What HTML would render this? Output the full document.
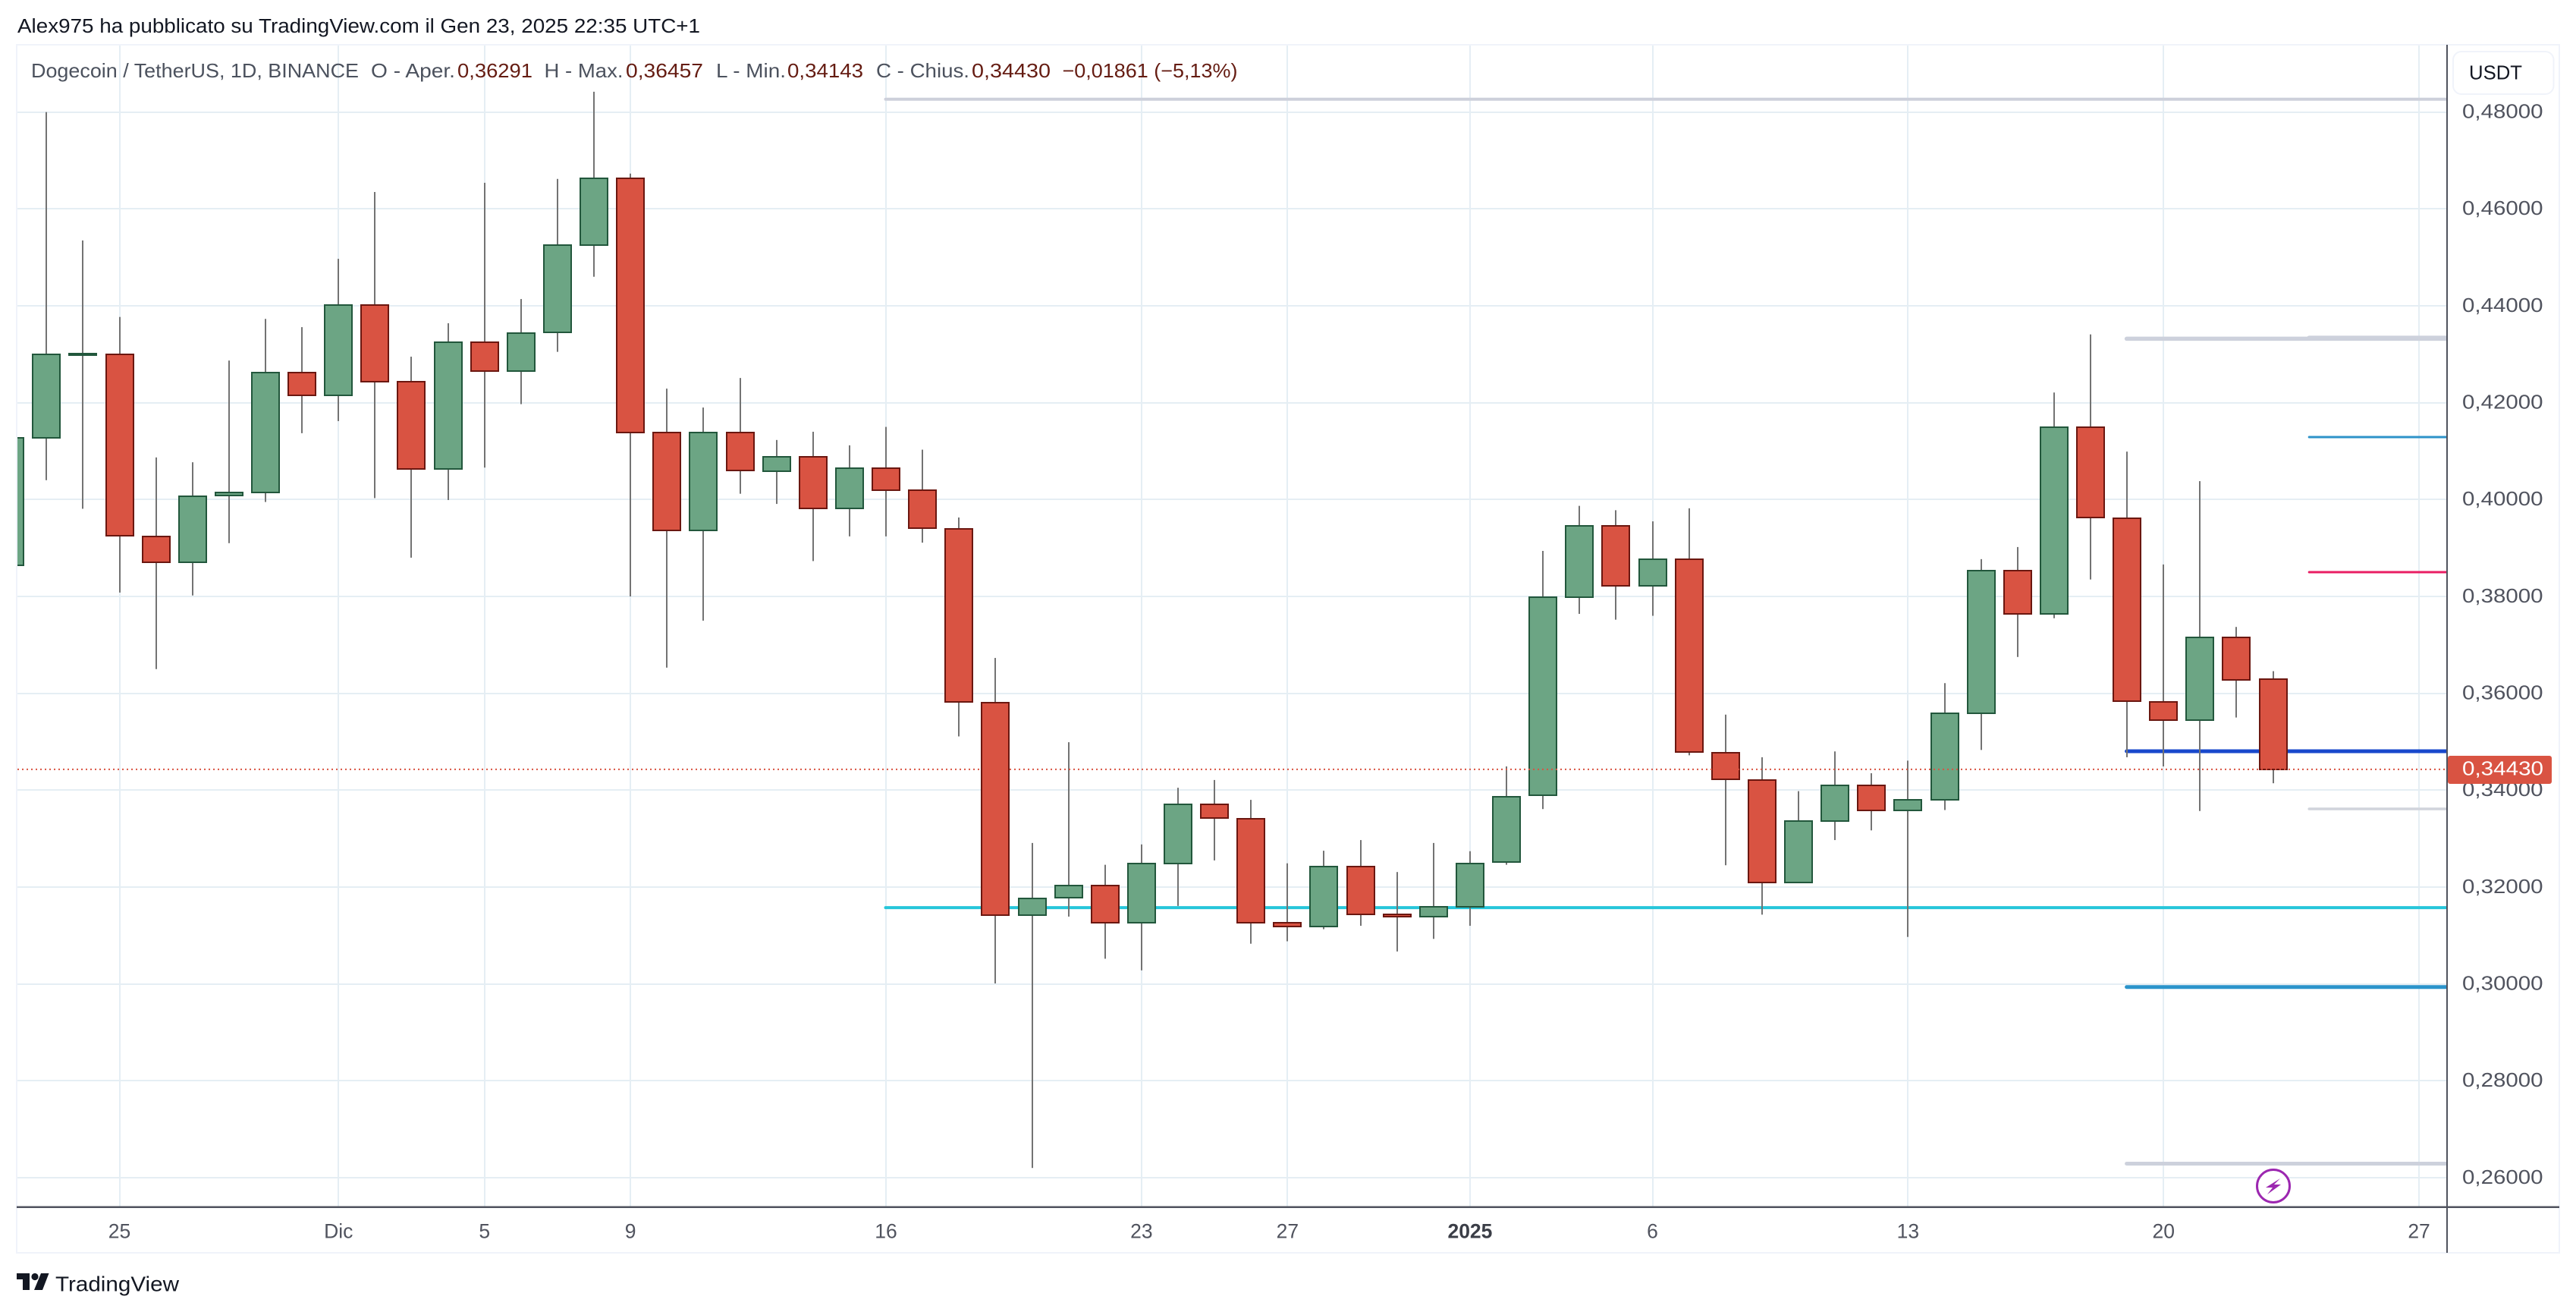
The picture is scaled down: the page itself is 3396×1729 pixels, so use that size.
<!DOCTYPE html>
<html lang="it">
<head>
<meta charset="utf-8">
<title>Dogecoin / TetherUS 1D</title>
<style>
html,body{margin:0;padding:0;background:#fff;width:3396px;height:1729px;overflow:hidden}
svg{display:block;font-family:"Liberation Sans",sans-serif}
</style>
</head>
<body>
<svg id="chart" xmlns="http://www.w3.org/2000/svg" width="3396" height="1729" viewBox="0 0 3396 1729">
  <defs>
    <clipPath id="plot-clip"><rect x="23" y="60" width="3203" height="1530"/></clipPath>
  </defs>
  <rect x="0" y="0" width="3396" height="1729" fill="#ffffff"/>
  <g id="grid"></g>
  <g id="levels" clip-path="url(#plot-clip)"></g>
  <g id="candles" clip-path="url(#plot-clip)"></g>
  <g id="last-price"></g>

  <rect x="22" y="59" width="3352" height="1592" fill="none" stroke="#f0f3fa" stroke-width="2"/>
  <rect x="3225" y="59" width="2" height="1592" fill="#50535e"/>
  <rect x="22" y="1589.5" width="3352" height="2.5" fill="#50535e"/>

  <text x="23" y="43" font-size="25.5" fill="#131722" textLength="900" lengthAdjust="spacingAndGlyphs">Alex975 ha pubblicato su TradingView.com il Gen 23, 2025 22:35 UTC+1</text>

  <g font-size="26">
    <text x="41" y="102" fill="#4c525e" textLength="432" lengthAdjust="spacingAndGlyphs">Dogecoin / TetherUS, 1D, BINANCE</text>
    <text x="489" y="102" fill="#4c525e" textLength="111" lengthAdjust="spacingAndGlyphs">O - Aper.</text>
    <text x="603" y="102" fill="#651c12" textLength="99" lengthAdjust="spacingAndGlyphs">0,36291</text>
    <text x="717.5" y="102" fill="#4c525e" textLength="104" lengthAdjust="spacingAndGlyphs">H - Max.</text>
    <text x="825" y="102" fill="#651c12" textLength="102" lengthAdjust="spacingAndGlyphs">0,36457</text>
    <text x="944" y="102" fill="#4c525e" textLength="92" lengthAdjust="spacingAndGlyphs">L - Min.</text>
    <text x="1038" y="102" fill="#651c12" textLength="100" lengthAdjust="spacingAndGlyphs">0,34143</text>
    <text x="1155" y="102" fill="#4c525e" textLength="123" lengthAdjust="spacingAndGlyphs">C - Chius.</text>
    <text x="1281" y="102" fill="#651c12" textLength="104" lengthAdjust="spacingAndGlyphs">0,34430</text>
    <text x="1400.5" y="102" fill="#651c12" textLength="231" lengthAdjust="spacingAndGlyphs">−0,01861 (−5,13%)</text>
  </g>

  <rect x="3234" y="68" width="132.5" height="56" rx="11" fill="#ffffff" stroke="#f0f3fa" stroke-width="2"/>
  <text x="3255" y="104.5" font-size="26" fill="#131722" textLength="70" lengthAdjust="spacingAndGlyphs">USDT</text>

  <g id="y-ticks"></g>
  <g id="x-ticks"></g>

  <rect x="3227" y="996" width="137" height="37" rx="3" fill="#d95342"/>
  <text id="last-price-text" x="3246" y="1021.5" font-size="26" fill="#ffffff" textLength="107" lengthAdjust="spacingAndGlyphs"></text>

  <g>
    <circle cx="2997" cy="1563" r="21.5" fill="#ffffff" stroke="#9c27b0" stroke-width="3"/>
    <polygon points="3006,1553 2987,1565 2996,1565 2989,1574 3007,1561 2998,1561" fill="#9c27b0"/>
  </g>

  <g>
    <polygon points="22,1678 39,1678 39,1700 30,1700 30,1686 22,1686" fill="#131722"/>
    <circle cx="46" cy="1682.5" r="4.6" fill="#131722"/>
    <polygon points="54,1678 64.5,1678 56,1700 45,1700" fill="#131722"/>
    <text x="73" y="1701.5" font-size="27.5" fill="#131722" textLength="163" lengthAdjust="spacingAndGlyphs">TradingView</text>
  </g>
</svg>

<script>
const categories = ["11-22","11-23","11-24","11-25","11-26","11-27","11-28","11-29","11-30","12-01","12-02","12-03","12-04","12-05","12-06","12-07","12-08","12-09","12-10","12-11","12-12","12-13","12-14","12-15","12-16","12-17","12-18","12-19","12-20","12-21","12-22","12-23","12-24","12-25","12-26","12-27","12-28","12-29","12-30","12-31","01-01","01-02","01-03","01-04","01-05","01-06","01-07","01-08","01-09","01-10","01-11","01-12","01-13","01-14","01-15","01-16","01-17","01-18","01-19","01-20","01-21","01-22","01-23","01-24"];
const opens  = [.3865,.4127,.4298,.4300,.3924,.3870,.4008,.4014,.4262,.4215,.4402,.4244,.4063,.4325,.4266,.4345,.4526,.4663,.4139,.3937,.4139,.4059,.4089,.3982,.4064,.4019,.3940,.3581,.3142,.3178,.3203,.3127,.3249,.3370,.3341,.3126,.3119,.3243,.3143,.3139,.3159,.3251,.3389,.3799,.3946,.3822,.3876,.3477,.3421,.3209,.3337,.3410,.3358,.3380,.3558,.3853,.3764,.4149,.3962,.3583,.3544,.3716,.36291];
const highs  = [.4200,.4800,.4535,.4377,.4087,.4077,.4287,.4373,.4356,.4497,.4635,.4295,.4364,.4654,.4414,.4662,.4842,.4673,.4229,.4190,.4251,.4123,.4140,.4112,.4150,.4103,.3963,.3673,.3291,.3499,.3246,.3288,.3405,.3421,.3380,.3249,.3275,.3297,.3231,.3291,.3274,.3449,.3894,.3987,.3978,.3955,.3982,.3556,.3468,.3398,.3480,.3435,.3461,.3621,.3877,.3902,.4221,.4341,.4099,.3866,.4038,.3737,.36457];
const lows   = [.3800,.4040,.3981,.3808,.3650,.3802,.3910,.3995,.4137,.4162,.4003,.3880,.3999,.4066,.4197,.4305,.4460,.3800,.3653,.3750,.4012,.3991,.3873,.3924,.3924,.3911,.3511,.3001,.2620,.3139,.3052,.3028,.3161,.3255,.3083,.3088,.3113,.3120,.3067,.3093,.3120,.3246,.3361,.3764,.3752,.3760,.3472,.3245,.3143,.3209,.3297,.3317,.3097,.3359,.3483,.3675,.3755,.3835,.3468,.3449,.3357,.3550,.34143];
const closes = [.4127,.4300,.4302,.3925,.3870,.4007,.4014,.4262,.4215,.4402,.4244,.4063,.4325,.4266,.4344,.4526,.4663,.4139,.3937,.4139,.4060,.4089,.3982,.4064,.4020,.3941,.3582,.3142,.3176,.3203,.3127,.3248,.3370,.3342,.3127,.3119,.3243,.3143,.3139,.3159,.3249,.3387,.3798,.3946,.3822,.3876,.3479,.3423,.3209,.3336,.3410,.3358,.3380,.3558,.3853,.3764,.4149,.3963,.3584,.3544,.3716,.3628,.34430];

const priceTicks = [.48,.46,.44,.42,.40,.38,.36,.34,.32,.30,.28,.26];
const timeTickDates = ["11-25","12-01","12-05","12-09","12-16","12-23","12-27","01-01","01-06","01-13","01-20","01-27"];
const timeTickLabels = ["25","Dic","5","9","16","23","27","2025","6","13","20","27"];

const levelPrices = [.48266,.43320,.43337,.41290,.38502,.34804,.33613,.31574,.29935,.26289];
const levelStartDates = ["12-16","01-19","01-24","01-24","01-24","01-19","01-24","12-16","01-19","01-19"];
const levelColors = ["#cdd0db","#cdd1dc","#cdd1dc","#2e93c9","#e91e63","#1848cc","#d1d4dc","#26c6da","#2b94cb","#cdd1dc"];
const levelWidths = [4,5.5,6,3,3,5,3.5,4,5,5];
const lastPrice = closes[closes.length - 1];

const NS = "http://www.w3.org/2000/svg";
function xScale(date) {
  const parts = date.split("-");
  const index = categories.indexOf(date);
  if (index >= 0) return 157.5 + (index - 3) * 48.12;
  return 157.5 + (categories.length - 4 + Number(parts[1]) - 24) * 48.12;
}
function yScale(price) { return 147.7 + (0.48 - price) * 6383; }
function formatPrice(price) { return price.toFixed(5).replace(".", ","); }
function make(parent, tag, attrs, text) {
  const el = document.createElementNS(NS, tag);
  for (const key in attrs) el.setAttribute(key, attrs[key]);
  if (text !== undefined) el.textContent = text;
  parent.appendChild(el);
  return el;
}

const gridGroup = document.getElementById("grid");
const levelGroup = document.getElementById("levels");
const candleGroup = document.getElementById("candles");
const yTickGroup = document.getElementById("y-ticks");
const xTickGroup = document.getElementById("x-ticks");
const lastGroup = document.getElementById("last-price");

priceTicks.forEach(function (tick) {
  const y = yScale(tick);
  const line = make(gridGroup, "rect", { x: 23, y: Math.round(y) - 1, width: 3203, height: 2, fill: "#e5eef4" });
  
  
  const label = make(yTickGroup, "text", { x: 3246, y: y + 7.8, "font-size": 26, fill: "#50535e", textLength: 106.5, lengthAdjust: "spacingAndGlyphs" }, formatPrice(tick));
  
  
});

timeTickDates.forEach(function (date, i) {
  const x = xScale(date);
  const line = make(gridGroup, "rect", { x: Math.round(x) - 1, y: 60, width: 2, height: 1530, fill: "#e5eef4" });
  
  
  const isYear = timeTickLabels[i] === "2025";
  const label = make(xTickGroup, "text", { x: x, y: 1631.5, "font-size": 26.5, fill: isYear ? "#3b3e47" : "#50535e", "text-anchor": "middle", "font-weight": isYear ? "bold" : "normal" }, timeTickLabels[i]);
  
  
});

levelPrices.forEach(function (price, i) {
  const y = yScale(price);
  const line = make(levelGroup, "line", { x1: xScale(levelStartDates[i]) - 0.5, y1: y, x2: 3240, y2: y, stroke: levelColors[i], "stroke-width": levelWidths[i], "stroke-linecap": "round" });
  
  
});

categories.slice(0, opens.length).forEach(function (date, i) {
  const up = closes[i] >= opens[i];
  const x = Math.round(xScale(date));
  const top = Math.round(yScale(Math.max(opens[i], closes[i])));
  const bottom = Math.round(yScale(Math.min(opens[i], closes[i])));
  const high = yScale(highs[i]);
  const low = yScale(lows[i]);
  const wick = make(candleGroup, "rect", { x: x - 1, y: high, width: 2, height: low - high, fill: "#737373" });
  
  
  const body = make(candleGroup, "rect", { x: x - 18, y: top, width: 36, height: Math.max(bottom - top, 1), fill: up ? "#6ca584" : "#d95342", stroke: up ? "#22573c" : "#6b1710", "stroke-width": 2 });
  
  
});

const lastY = yScale(lastPrice);
const lastLine = make(lastGroup, "line", { x1: 23, y1: lastY, x2: 3225, y2: lastY, stroke: "#d95342", "stroke-width": 2, "stroke-dasharray": "2 4" });


document.getElementById("last-price-text").textContent = formatPrice(lastPrice);
</script>
</body>
</html>
